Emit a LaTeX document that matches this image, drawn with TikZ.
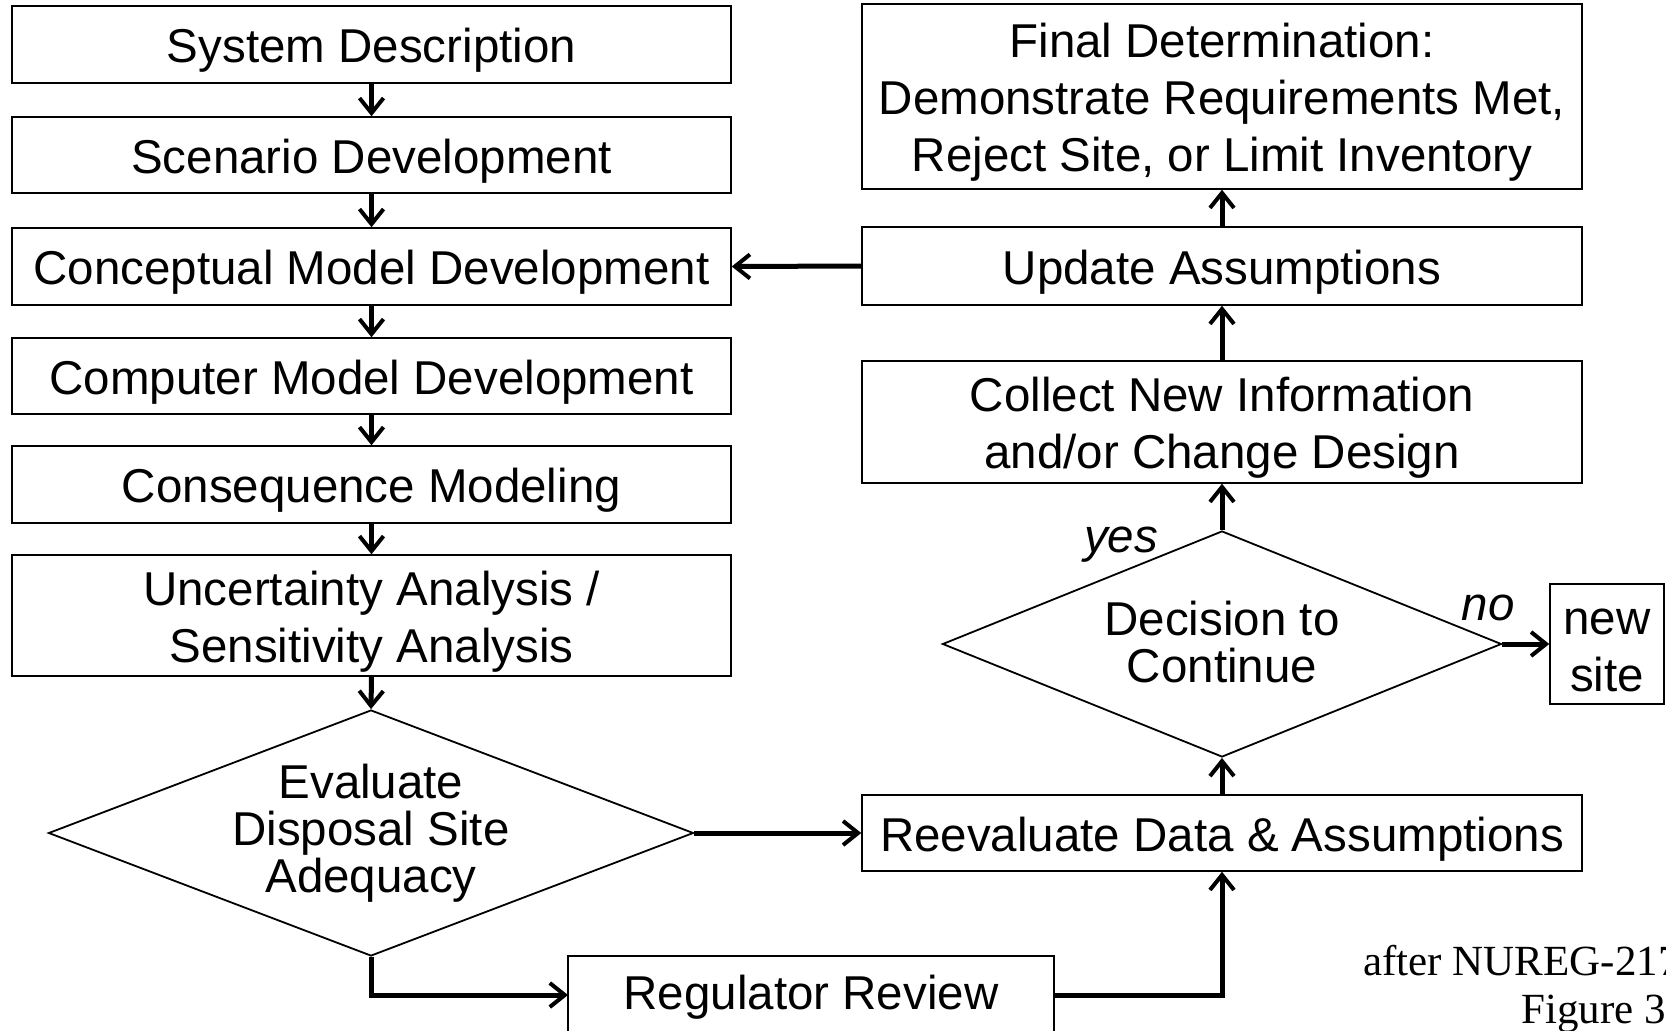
\documentclass[tikz,border=0pt]{standalone}
\usepackage{fontspec}
\setmainfont{Liberation Sans}
\newfontfamily\serifnote{Liberation Serif}
\usetikzlibrary{shapes.geometric,arrows.meta}
\begin{document}
\begin{tikzpicture}[x=1pt,y=-1pt,
  box/.style={draw,line width=1.5pt,inner sep=0pt},
  txt/.style={inner sep=0pt,align=center,font=\fontsize{47.5}{57}\selectfont},
  dtxt/.style={inner sep=0pt,align=center,font=\fontsize{47.5}{47}\selectfont},
  dia/.style={draw,line width=1.8pt,shape=diamond,inner sep=0pt},
  arr/.style={line width=5pt,-{Straight Barb[length=15pt,width=24pt,line width=4pt]}},
  lbl/.style={font=\fontsize{47.5}{57}\selectfont\itshape,inner sep=0pt},
  note/.style={font=\serifnote\fontsize{43}{48}\selectfont,anchor=base west,inner sep=0pt}]
\newcommand\bx[6]{%
  \node[box,minimum width=#4pt,minimum height=#5pt] (#1) at (#2,#3) {};
  \node[txt] (#1t) at ([yshift=-6pt]#1.center) {#6};}
\useasboundingbox (0,0) rectangle (1666,1031);
\fill[white] (0,0) rectangle (1666,1031);
\clip (0,0) rectangle (1666,1031);
% left column
\bx{sys}{371.5}{44.5}{719}{77}{System Description}
\bx{scen}{371.5}{155}{719}{76}{Scenario Development}
\bx{conc}{371.5}{266.5}{719}{77}{Conceptual Model Development}
\bx{comp}{371.5}{376}{719}{76}{Computer Model Development}
\bx{cons}{371.5}{484.5}{719}{77}{Consequence Modeling}
\bx{unc}{371.5}{615.5}{719}{121}{Uncertainty Analysis /\\Sensitivity Analysis}
\node[dia,minimum width=645pt,minimum height=246pt] (eval) at (371,833) {};
\node[dtxt] (evalt) at (eval.center) {Evaluate\\Disposal Site\\Adequacy};
% right column
\bx{final}{1222}{96.5}{720}{185}{Final Determination:\\Demonstrate Requirements Met,\\Reject Site, or Limit Inventory}
\bx{upd}{1222}{266}{720}{78}{Update Assumptions}
\bx{coll}{1222}{422}{720}{122}{Collect New Information\\and/or Change Design}
\node[dia,minimum width=559pt,minimum height=226pt] (dec) at (1222,644) {};
\node[dtxt] (dect) at ([yshift=2pt]dec.center) {Decision to\\Continue};
\bx{reev}{1222}{833}{720}{76}{Reevaluate Data \& Assumptions}
\bx{new}{1607}{644}{114}{120}{new\\site}
% regulator review (runs past the lower edge)
\node[box,minimum width=486pt,minimum height=84pt] (reg) at (811,998) {};
\node[txt] (regt) at ([yshift=1pt]reg.center) {Regulator Review};
\coordinate (regin) at (568,995);
\coordinate (regout) at (1054,995);
% labels
\node[lbl] (yes) at (1121,545) {yes};
\node[lbl] (no) at (1488,608) {no};
\node[note] (n1) at (1363,975) {after NUREG-217};
\node[note] (n2) at (1521,1023) {Figure 3-};
% arrows
\draw[arr] (sys.south) -- (scen.north);
\draw[arr] (scen.south) -- (conc.north);
\draw[arr] (conc.south) -- (comp.north);
\draw[arr] (comp.south) -- (cons.north);
\draw[arr] (cons.south) -- (unc.north);
\draw[arr] (unc.south) -- (eval.north);
\draw[arr] (upd.west) -- (conc.east);
\draw[arr] (coll.north) -- (upd.south);
\draw[arr] (upd.north) -- (final.south);
\draw[arr] (dec.north) -- (coll.south);
\draw[arr] (reev.north) -- (dec.south);
\draw[arr] (dec.east) -- (new.west);
\draw[arr] (eval.east) -- (reev.west);
\draw[arr] (eval.south) |- (regin);
\draw[arr] (regout) -| (reev.south);
\end{tikzpicture}
\end{document}
